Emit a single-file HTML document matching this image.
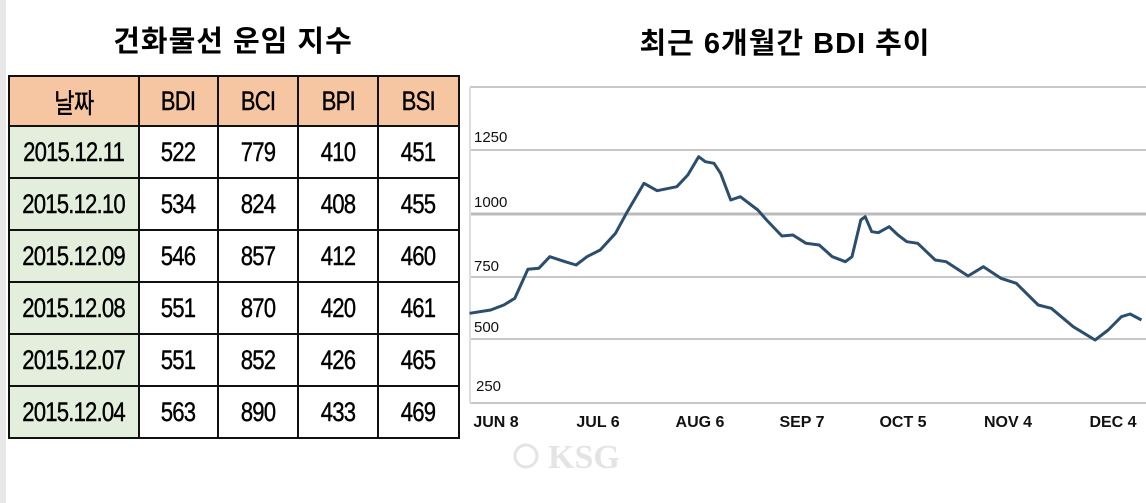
<!DOCTYPE html>
<html><head><meta charset="utf-8"><style>
body{margin:0;width:1146px;height:503px;background:#fff;overflow:hidden;position:relative;font-family:"Liberation Sans","Noto Sans CJK KR",sans-serif}
.t1{position:absolute;left:8px;width:450px;top:18px;text-align:center;font-size:29px;font-weight:bold;letter-spacing:1px}
.t2{position:absolute;left:560px;width:450px;top:20px;text-align:center;font-size:29px;font-weight:bold;letter-spacing:1px}
table{position:absolute;left:8px;top:75px;border-collapse:collapse}
td{border:2px solid #111;text-align:center;font-size:27px;height:50px;padding:0;letter-spacing:-1px;-webkit-text-stroke:0.4px #000}
td span{display:inline-block;transform:scaleX(0.82)}
tr.h td{background:#f6c5a2;height:48px}
td.d{background:#e4eedc}
</style></head><body>
<div style="position:absolute;left:0;top:0;width:6px;height:503px;background:#e8e8e8"></div>
<div class="t1">건화물선 운임 지수</div>
<div class="t2">최근 6개월간 BDI 추이</div>
<table>
<colgroup><col style="width:130px"><col style="width:79px"><col style="width:80px"><col style="width:80px"><col style="width:81px"></colgroup>
<tr class="h"><td><span>날짜</span></td><td><span>BDI</span></td><td><span>BCI</span></td><td><span>BPI</span></td><td><span>BSI</span></td></tr>
<tr><td class="d"><span>2015.12.11</span></td><td><span>522</span></td><td><span>779</span></td><td><span>410</span></td><td><span>451</span></td></tr>
<tr><td class="d"><span>2015.12.10</span></td><td><span>534</span></td><td><span>824</span></td><td><span>408</span></td><td><span>455</span></td></tr>
<tr><td class="d"><span>2015.12.09</span></td><td><span>546</span></td><td><span>857</span></td><td><span>412</span></td><td><span>460</span></td></tr>
<tr><td class="d"><span>2015.12.08</span></td><td><span>551</span></td><td><span>870</span></td><td><span>420</span></td><td><span>461</span></td></tr>
<tr><td class="d"><span>2015.12.07</span></td><td><span>551</span></td><td><span>852</span></td><td><span>426</span></td><td><span>465</span></td></tr>
<tr><td class="d"><span>2015.12.04</span></td><td><span>563</span></td><td><span>890</span></td><td><span>433</span></td><td><span>469</span></td></tr>
</table>
<svg style="position:absolute;left:0;top:0" width="1146" height="503">
<g stroke="#c8c8c8" stroke-width="2">
<line x1="470" y1="87" x2="1146" y2="87"/>
<line x1="470" y1="150" x2="1146" y2="150"/>
<line x1="470" y1="214" x2="1146" y2="214" stroke="#bbb" stroke-width="3"/>
<line x1="470" y1="277" x2="1146" y2="277"/>
<line x1="470" y1="339" x2="1146" y2="339"/>
<line x1="470" y1="403" x2="1146" y2="403"/>
<line x1="470" y1="87" x2="470" y2="403" stroke="#ddd"/>
</g>
<g font-family="Liberation Sans" font-size="15" fill="#111">
<text x="474" y="142">1250</text><text x="474" y="207">1000</text><text x="474" y="271">750</text><text x="474" y="332">500</text><text x="476" y="391">250</text>
</g>
<g font-family="Liberation Sans" font-size="16" font-weight="bold" fill="#111" text-anchor="middle">
<text x="496" y="427">JUN 8</text><text x="598" y="427">JUL 6</text><text x="700" y="427">AUG 6</text><text x="802" y="427">SEP 7</text><text x="903" y="427">OCT 5</text><text x="1008" y="427">NOV 4</text><text x="1113" y="427">DEC 4</text>
</g>
<polyline fill="none" stroke="#2c4e6e" stroke-width="3" stroke-linejoin="round" points="469.6,313.3 490.7,310 503.8,305 514.8,298.3 527.9,269.3 538.8,268.3 549.8,256.7 565.1,261.7 576.1,265 587,256.7 600.2,250 615.5,233.3 626.4,213.3 635.2,198.3 644,183.3 657.1,190.7 676.8,186.7 687.8,175 698.7,156.7 705.3,161.7 714,163.3 720.6,173.3 730.7,200 740.3,196.7 757.8,210 766.6,220 781.9,236 792.9,235 806,243.3 819.2,245 832.3,256.7 845.4,261.7 852,256.7 860.8,220 865.2,216.7 871.7,231.7 878.3,232.7 889.2,226.7 898,235 906.8,241.7 917.7,243.3 935.2,260 946.2,261.7 968.1,276 983.4,266.7 1000.9,278.3 1016.3,283.3 1038.2,305 1051.3,308.3 1073.2,326.7 1095.1,340 1108.2,330 1121.4,316.7 1130.1,314 1141.5,320"/>
<text x="548" y="468" font-family="Liberation Serif" font-size="34" font-weight="bold" fill="#e4e4e4">KSG</text>
<circle cx="526" cy="456" r="11" fill="none" stroke="#e4e4e4" stroke-width="3"/>
</svg>
</body></html>
